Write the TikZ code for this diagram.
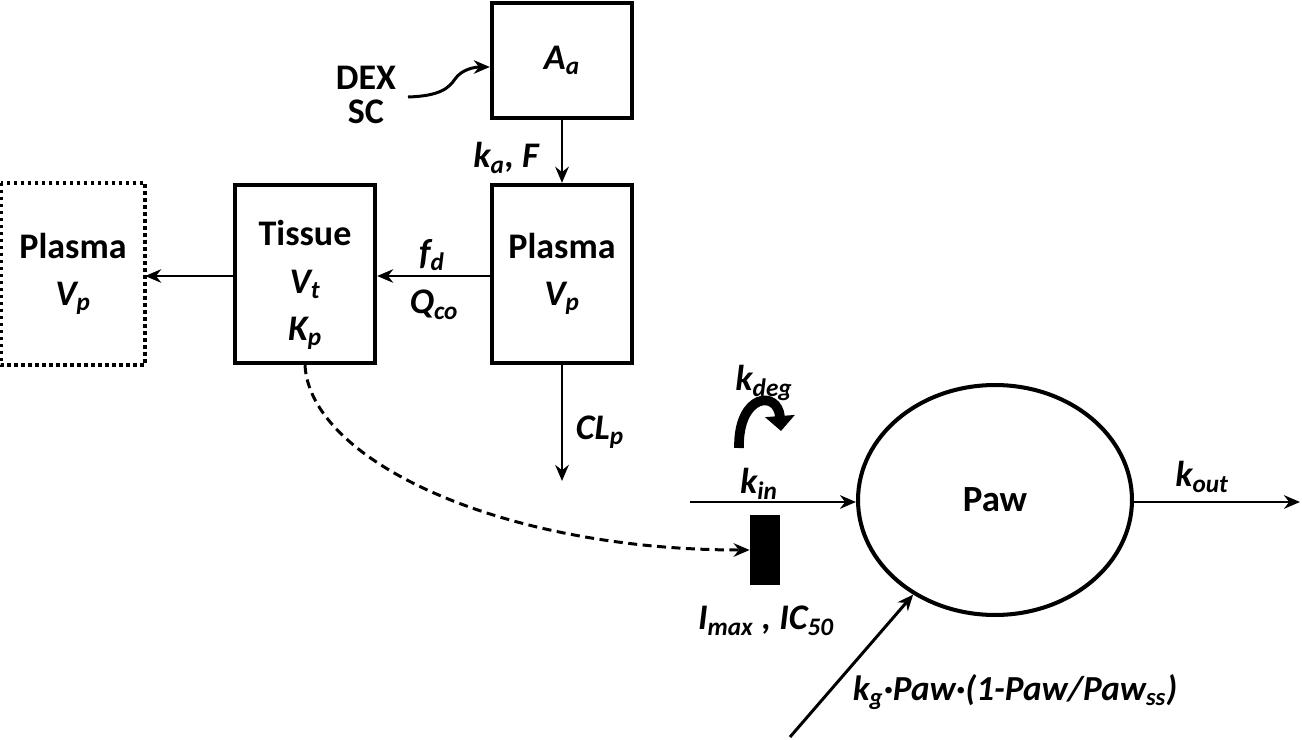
\documentclass[tikz,border=0pt]{standalone}
\usepackage{fontspec}
\setmainfont{Carlito}
\usetikzlibrary{shapes.geometric,arrows.meta}
\newcommand{\sbs}[1]{\textsubscript{#1}}
\begin{document}
\begin{tikzpicture}[x=0.02cm,y=-0.02cm,
  bigfont/.style={font=\fontsize{20.5}{26.5}\selectfont\bfseries},
  txt/.style={bigfont, align=center, inner sep=0pt},
  itx/.style={font=\fontsize{20.5}{25.5}\selectfont\bfseries\itshape, align=center, inner sep=0pt},
  cbox/.style={draw, line width=2.5pt, minimum width=2.8cm, minimum height=3.56cm, inner sep=0pt, align=center, bigfont},
  flow/.style={line width=1.7pt, -{Stealth[length=0.32cm,width=0.27cm]}}]
\useasboundingbox (0,0) rectangle (1302,740);
% compartments
\node[cbox, minimum height=2.3cm, font=\fontsize{20.5}{25.5}\selectfont\bfseries\itshape] (aa) at (562,60.5) {A\sbs{a}};
\node[cbox] (plasma) at (562,274) {Plasma\\\itshape V\sbs{p}};
\node[cbox, font=\fontsize{20.5}{27}\selectfont\bfseries] (tissue) at (305,274) {\rule{0pt}{0.95cm}Tissue\\\itshape V\sbs{t}\\\itshape K\sbs{p}};
\node[cbox, draw=none] (plasmab) at (73,274) {Plasma\\\itshape V\sbs{p}};
\draw[line width=2.2pt, dash pattern=on 0.07cm off 0.07cm] (plasmab.north west) rectangle (plasmab.south east);
% dosing
\node[txt, font=\fontsize{20.5}{19.5}\selectfont\bfseries] (dex) at (366,95) {DEX\\SC};
\coordinate (dexs) at (408,97);
\draw[flow] (dexs) .. controls (440,96) and (449,88) .. (455,79) .. controls (462,69) and (475,67) .. (aa.west |- 0,67);
% absorption
\draw[flow] (aa.south) -- (plasma.north);
\node[itx] (kaf) at (506,158) {k\sbs{a}, F};
% distribution
\draw[flow] (plasma.west |- 0,276) -- (tissue.east |- 0,276);
\node[itx] (fd) at (432,255) {f\sbs{d}};
\node[itx] (qco) at (434,305) {Q\sbs{co}};
\draw[flow] (tissue.west |- 0,276) -- (plasmab.east |- 0,276);
% clearance
\coordinate (clend) at (562,481);
\draw[flow] (plasma.south) -- (clend);
\node[itx] (clp) at (600,432) {CL\sbs{p}};
% PD
\node[draw, ellipse, line width=2.3pt, minimum width=5.48cm, minimum height=4.6cm, inner sep=0pt, font=\fontsize{21}{25}\selectfont\bfseries] (paw) at (995,500) {Paw};
\coordinate (kins) at (690,502);
\draw[flow] (kins) -- (paw.west |- 0,502);
\node[itx] (kin) at (759,484) {k\sbs{in}};
\node[itx] (kdeg) at (764,383) {k\sbs{deg}};
\draw[line width=5.5pt, -{Triangle[length=0.3cm,width=0.58cm]}] (739,448) .. controls (738,393) and (778,390) .. (781,431);
\node[fill=black, minimum width=0.6cm, minimum height=1.4cm, inner sep=0pt] (bar) at (765,550) {};
\draw[line width=1.7pt, dash pattern=on 0.18cm off 0.11cm, -{Stealth[length=0.32cm,width=0.27cm]}] (tissue.south) .. controls (310,460) and (500,550) .. (bar.west |- 0,550);
\node[itx] (imax) at (766,621) {I\sbs{max} , IC\sbs{50}};
\coordinate (kouts) at (1300,502);
\draw[flow] (paw.east |- 0,502) -- (kouts);
\node[itx] (kout) at (1202,477) {k\sbs{out}};
\coordinate (kgs) at (790,737);
\draw[flow] (kgs) -- (paw);
\node[itx, font=\fontsize{20}{24}\selectfont\bfseries\itshape] (kg) at (1015,692) {k\sbs{g}·Paw·(1-Paw/Paw\sbs{ss})};
\end{tikzpicture}
\end{document}
